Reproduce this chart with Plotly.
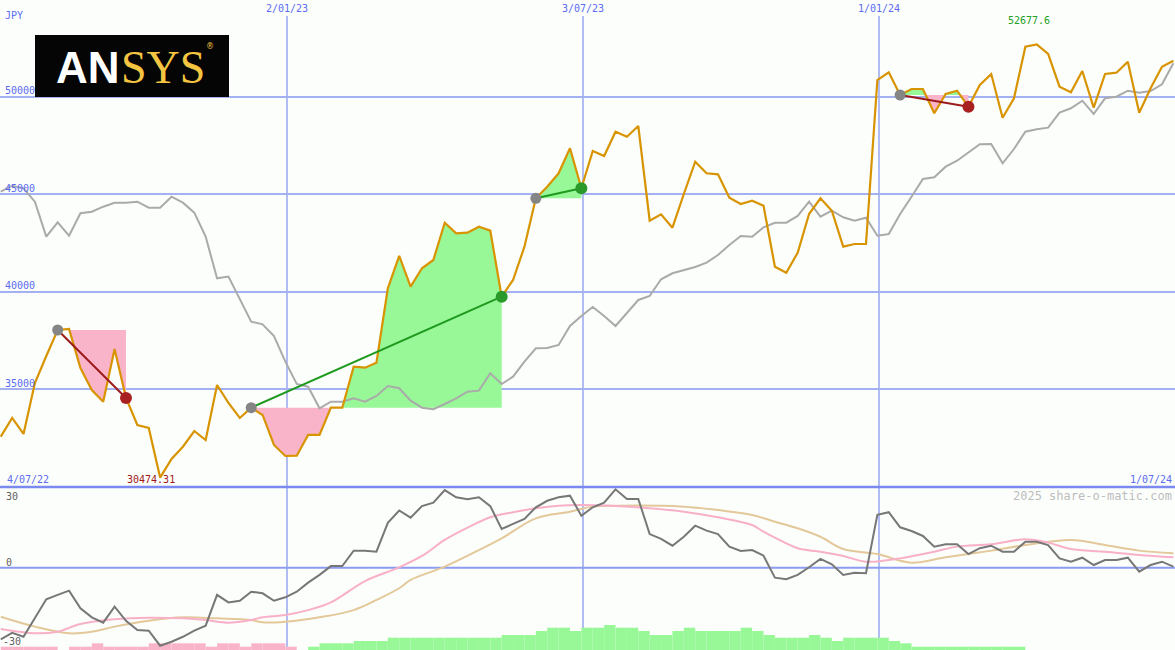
import pandas as pd
import plotly.graph_objects as go

# ---------------- data ----------------
dates = pd.date_range("2022-07-10", periods=104, freq="7D")

price = [32572, 33530, 32710, 35324, 36708, 38041, 38092, 36093, 34965, 34365,
         37067, 34556, 33172, 33018, 30474.31, 31428, 32059, 32864, 32402, 35222,
         34300, 33530, 34058, 33684, 32146, 31582, 31598, 32659, 32659, 34058,
         34058, 36160, 36109, 36365, 40179, 41834, 40261, 41204, 41629, 43541,
         42998, 43029, 43336, 43131, 39748, 40604, 42311, 44792, 45387, 46074,
         47355, 45305, 47217, 46960, 48206, 47950, 48498, 43644, 43972, 43285,
         45012, 46668, 46073, 46022, 44823, 44500, 44669, 44413, 41286, 40978,
         42003, 43987, 44792, 44156, 42311, 42449, 42449, 50856, 51251, 50087,
         50395, 50395, 49149, 50138, 50308, 49487, 50600, 51164, 48924, 49918,
         52563, 52677.6, 52189, 50513, 50226, 51317, 49436, 51164, 51230, 51794,
         49180, 50431, 51538, 51846]

compare = [45130, 45438, 45305, 44618, 42824, 43562, 42875, 44023, 44105, 44361,
           44566, 44566, 44618, 44310, 44310, 44874, 44566, 44054, 42824, 40691,
           40783, 39666, 38466, 38333, 37733, 36416, 35273, 35135, 34027, 34366,
           34366, 34540, 34366, 34658, 35170, 35053, 34417, 34058, 33976, 34248,
           34540, 34878, 34930, 35821, 35273, 35647, 36416, 37103, 37118, 37272,
           38246, 38759, 39220, 38759, 38246, 38912, 39579, 39784, 40640, 40947,
           41117, 41270, 41491, 41885, 42398, 42859, 42824, 43305, 43541, 43541,
           43885, 44618, 43849, 44156, 43818, 43644, 43798, 42875, 42962, 43987,
           44874, 45781, 45868, 46412, 46719, 47150, 47560, 47575, 46586, 47319,
           48206, 48329, 48411, 49180, 49405, 49795, 49113, 49918, 50000, 50308,
           50205, 50292, 50636, 51712]

momentum = [-26.85, -24.4, -25.9, -19.0, -11.85, -10.2, -8.6, -15.2, -18.6, -20.6,
            -14.6, -19.9, -23.4, -23.6, -29.25, -27.75, -25.9, -23.6, -21.75, -10.2,
            -13.0, -12.4, -9.0, -9.6, -12.4, -11.1, -9.0, -5.6, -2.7, 0.6,
            0.6, 6.4, 6.4, 6.0, 16.8, 21.45, 18.75, 23.1, 24.4, 29.1,
            26.4, 25.65, 26.4, 23.1, 14.5, 16.4, 18.3, 22.65, 25.1, 26.4,
            27.0, 19.5, 22.65, 24.4, 29.4, 25.8, 25.8, 12.6, 10.8, 8.25,
            11.6, 15.75, 13.9, 12.6, 7.9, 6.3, 6.6, 4.5, -3.75, -4.35,
            -2.7, 0.15, 3.3, 1.3, -2.7, -1.9, -2.1, 19.8, 20.8, 15.15,
            13.75, 11.9, 7.9, 8.8, 8.8, 5.1, 7.3, 8.25, 6.0, 6.0,
            9.75, 9.75, 8.5, 3.5, 2.25, 3.75, 1.0, 2.9, 2.9, 3.75,
            -1.5, 1.0, 2.25, 0.4]

pink_idx = [0, 3, 5, 7, 10, 13, 16, 18, 20, 22, 23, 25, 27, 29, 32, 35, 37, 39, 41,
            43, 45, 47, 49, 51, 54, 57, 60, 63, 66, 67, 68, 70, 72, 74, 76, 79, 82,
            84, 87, 90, 92, 94, 97, 100, 103]
pink_vals = [-23.0, -24.6, -24.0, -21.1, -19.35, -18.75, -19.0, -19.6, -20.6, -19.6,
             -18.6, -17.7, -15.9, -13.0, -5.0, 0.15, 4.4, 10.4, 15.0, 18.9, 20.8,
             22.3, 23.25, 23.5, 23.1, 22.3, 21.0, 18.9, 16.0, 13.5, 11.25, 7.3, 6.0,
             4.4, 2.25, 3.5, 6.0, 7.9, 8.8, 10.65, 9.4, 7.0, 6.0, 4.75, 3.9]

tan_idx = [0, 3, 6, 8, 10, 13, 16, 19, 22, 23, 25, 28, 31, 33, 35, 36, 39, 42, 44,
           47, 50, 52, 54, 60, 63, 66, 68, 70, 72, 74, 77, 80, 83, 87, 90, 94, 97,
           100, 103]
tan_vals = [-18.4, -22.1, -24.6, -24.0, -22.1, -19.9, -18.6, -19.0, -19.6, -20.5,
            -20.25, -18.6, -15.9, -12.1, -7.7, -4.6, 0.4, 6.6, 11.0, 18.5, 21.0,
            22.9, 23.25, 22.9, 21.6, 19.75, 17.25, 14.8, 11.6, 7.0, 5.1, 1.9, 3.9,
            6.4, 8.5, 10.4, 8.5, 6.4, 5.4]

# bottom histogram (pixel-height units)
pink_bar_idx = list(range(0, 27))
pink_bars = [3.3, 3.3, 3.3, 3.3, 3.3, 0, 3.3, 3.3, 6.7, 3.3, 3.3, 3.3, 3.3, 6.7,
             6.7, 6.7, 6.7, 6.7, 3.3, 6.7, 6.7, 3.3, 6.7, 6.7, 6.7, 3.3, 0]
green_bar_idx = list(range(27, 90))
green_bars = [3.3, 6.7, 6.7, 6.7, 9, 9, 9, 12.3, 12.3, 12.3, 12.3, 12.3, 12.3, 12.3,
              12.3, 12.3, 12.3, 15, 15, 15, 19, 22.3, 22.3, 19, 22.3, 22.3, 25,
              22.3, 22.3, 19, 15, 15, 19, 22.3, 19, 19, 19, 19, 22.3, 19, 15,
              12.3, 12.3, 12.3, 15, 12.3, 9, 12.3, 12.3, 12.3, 12.3, 9, 6.7,
              3.3, 3.3, 3.3, 3.3, 3.3, 3.3, 3.3, 3.3, 3.3, 3.3]

trade_start = [5, 22, 47, 79]
trade_end = [11, 44, 51, 85]

grid_levels = [35000, 40000, 45000, 50000]
grid_labels = ["35000", "40000", "45000", "50000"]
vline_dates = ["2023-01-02", "2023-07-03", "2024-01-01"]
vline_labels = ["2/01/23", "3/07/23", "1/01/24"]
min_label = "30474.31"
max_label = "52677.6"

# ---------------- style ----------------
W, H = 1175, 650
SPLIT = 487            # pixel row of the panel divider
BG = "#fcfefc"
GRID = "#a3b1f2"
BLUE_TXT = "#5b6cf0"
GREEN_FILL = "#98f898"
PINK_FILL = "#f9b4ca"
MONO = "DejaVu Sans Mono"
x_range = ["2022-07-09 13:00", "2024-07-01 00:00"]
split_frac = 1 - SPLIT / H

fig = go.Figure()

# ---- lower panel: histogram bars ----
week_ms = 7 * 24 * 3600 * 1000
fig.add_trace(go.Bar(x=[dates[i] for i in pink_bar_idx], y=pink_bars, width=week_ms,
                     offset=0, marker=dict(color=PINK_FILL, line=dict(width=0)),
                     xaxis="x2", yaxis="y2", hoverinfo="skip"))
fig.add_trace(go.Bar(x=[dates[i] for i in green_bar_idx], y=green_bars, width=week_ms,
                     offset=0, marker=dict(color=GREEN_FILL, line=dict(width=0)),
                     xaxis="x2", yaxis="y2", hoverinfo="skip"))

# ---- lower panel: indicator lines ----
fig.add_trace(go.Scatter(x=[dates[i] for i in tan_idx], y=tan_vals, mode="lines",
                         line=dict(color="#e3c89a", width=2, shape="spline"),
                         xaxis="x2", yaxis="y3", hoverinfo="skip"))
fig.add_trace(go.Scatter(x=[dates[i] for i in pink_idx], y=pink_vals, mode="lines",
                         line=dict(color="#f8b0c8", width=2, shape="spline"),
                         xaxis="x2", yaxis="y3", hoverinfo="skip"))
fig.add_trace(go.Scatter(x=dates, y=momentum, mode="lines",
                         line=dict(color="#777777", width=2),
                         xaxis="x2", yaxis="y3", hoverinfo="skip"))

# ---- main panel: trade fills ----
for s, e in zip(trade_start, trade_end):
    L = price[s]
    xs, ys = [dates[s]], [price[s]]
    for i in range(s, e):
        p0, p1 = price[i], price[i + 1]
        if (p0 - L) * (p1 - L) < 0:
            f = (L - p0) / (p1 - p0)
            xs.append(dates[i] + (dates[i + 1] - dates[i]) * f)
            ys.append(L)
        xs.append(dates[i + 1])
        ys.append(price[i + 1])
    px_ = xs + [xs[-1], xs[0]]
    up = [max(y, L) for y in ys] + [L, L]
    dn = [min(y, L) for y in ys] + [L, L]
    fig.add_trace(go.Scatter(x=px_, y=up, fill="toself", fillcolor=GREEN_FILL,
                             mode="lines", line=dict(width=0), hoverinfo="skip"))
    fig.add_trace(go.Scatter(x=px_, y=dn, fill="toself", fillcolor=PINK_FILL,
                             mode="lines", line=dict(width=0), hoverinfo="skip"))

# ---- main panel: comparison and price ----
fig.add_trace(go.Scatter(x=dates, y=compare, mode="lines",
                         line=dict(color="#aaaaaa", width=2), hoverinfo="skip"))
fig.add_trace(go.Scatter(x=dates, y=price, mode="lines",
                         line=dict(color="#d89400", width=2.2), hoverinfo="skip"))

# ---- trade lines and markers ----
for s, e in zip(trade_start, trade_end):
    win = price[e] > price[s]
    lc = "#1e9a1e" if win else "#9c1a1a"
    mc = "#2a9a2a" if win else "#a82020"
    fig.add_trace(go.Scatter(x=[dates[s], dates[e]], y=[price[s], price[e]],
                             mode="lines", line=dict(color=lc, width=2), hoverinfo="skip"))
    fig.add_trace(go.Scatter(x=[dates[s]], y=[price[s]], mode="markers",
                             marker=dict(color="#858585", size=11), hoverinfo="skip"))
    fig.add_trace(go.Scatter(x=[dates[e]], y=[price[e]], mode="markers",
                             marker=dict(color=mc, size=12), hoverinfo="skip"))

# ---------------- shapes ----------------
shapes = []
for d in vline_dates:
    shapes.append(dict(type="line", xref="x", yref="paper", x0=d, x1=d,
                       y0=0, y1=1 - 16 / H, line=dict(color=GRID, width=1.7),
                       layer="below"))
shapes.append(dict(type="line", xref="paper", yref="paper", x0=0, x1=1,
                   y0=split_frac, y1=split_frac, line=dict(color="#7a8af0", width=2.5)))
shapes.append(dict(type="line", xref="paper", yref="y3", x0=0, x1=1, y0=0, y1=0,
                   line=dict(color="#8d9cf0", width=2), layer="below"))
# logo box
shapes.append(dict(type="rect", xref="paper", yref="paper",
                   x0=35 / W, x1=229 / W, y0=1 - 97 / H, y1=1 - 35 / H,
                   fillcolor="#050505", line=dict(width=0), layer="above"))

# ---------------- annotations ----------------
ann = []


def txt(px, py, text, color, size=10, xanchor="left", family=MONO):
    ann.append(dict(text=text, xref="paper", yref="paper", x=px / W, y=1 - py / H,
                    xanchor=xanchor, yanchor="middle", showarrow=False,
                    font=dict(family=family, size=size, color=color)))


txt(3, 16, "JPY", BLUE_TXT)
for lv, lb in zip(grid_levels, grid_labels):
    ann.append(dict(text=lb, xref="paper", yref="y", x=3 / W, y=lv, xanchor="left",
                    yanchor="middle", yshift=6, showarrow=False,
                    font=dict(family=MONO, size=10, color=BLUE_TXT)))
for d, lb in zip(vline_dates, vline_labels):
    ann.append(dict(text=lb, xref="x", yref="paper", x=d, y=1 - 8 / H,
                    xanchor="center", yanchor="middle", showarrow=False,
                    font=dict(family=MONO, size=10, color=BLUE_TXT)))
txt(5, 479, "4/07/22", BLUE_TXT)
txt(1174, 479, "1/07/24", BLUE_TXT, xanchor="right")
txt(151, 479, min_label, "#a01818", xanchor="center")
txt(1029, 21, max_label, "#22a022", xanchor="center")
txt(4, 496, "30", "#606060")
txt(4, 562, "0", "#606060")
txt(1, 641, "-30", "#606060")
txt(1174, 496, "2025 share-o-matic.com", "#bdbdbd", size=12, xanchor="right")
# logo text
txt(88, 68, "<b>AN</b>", "#ffffff", size=44, xanchor="center",
    family="Liberation Sans")
txt(163, 68, "SYS", "#f5c542", size=46, xanchor="center", family="Liberation Serif")
txt(210, 46, "®", "#f5c542", size=8, xanchor="center", family="DejaVu Sans")

fig.update_layout(
    width=W, height=H, margin=dict(l=0, r=0, t=0, b=0),
    paper_bgcolor=BG, plot_bgcolor=BG, showlegend=False, barmode="overlay",
    hovermode=False,
    xaxis=dict(domain=[0, 1], range=x_range, anchor="y", visible=False, type="date"),
    xaxis2=dict(domain=[0, 1], range=x_range, anchor="y2", visible=False, type="date"),
    yaxis=dict(domain=[split_frac, 1], range=[29992, 54957], tickvals=grid_levels,
               showticklabels=False, showgrid=True, gridcolor=GRID, gridwidth=2,
               zeroline=False, showline=False, ticks=""),
    yaxis2=dict(domain=[0, split_frac], range=[0, 163], visible=False,
                anchor="x2"),
    yaxis3=dict(domain=[0, split_frac], range=[-30.86, 30.26], overlaying="y2",
                anchor="x2", visible=False),
    shapes=shapes, annotations=ann,
)

fig.write_html("out.html", config={"displayModeBar": False, "staticPlot": True},
               post_script="document.body.style.margin='0px';"
                           "document.body.style.overflow='hidden';")
